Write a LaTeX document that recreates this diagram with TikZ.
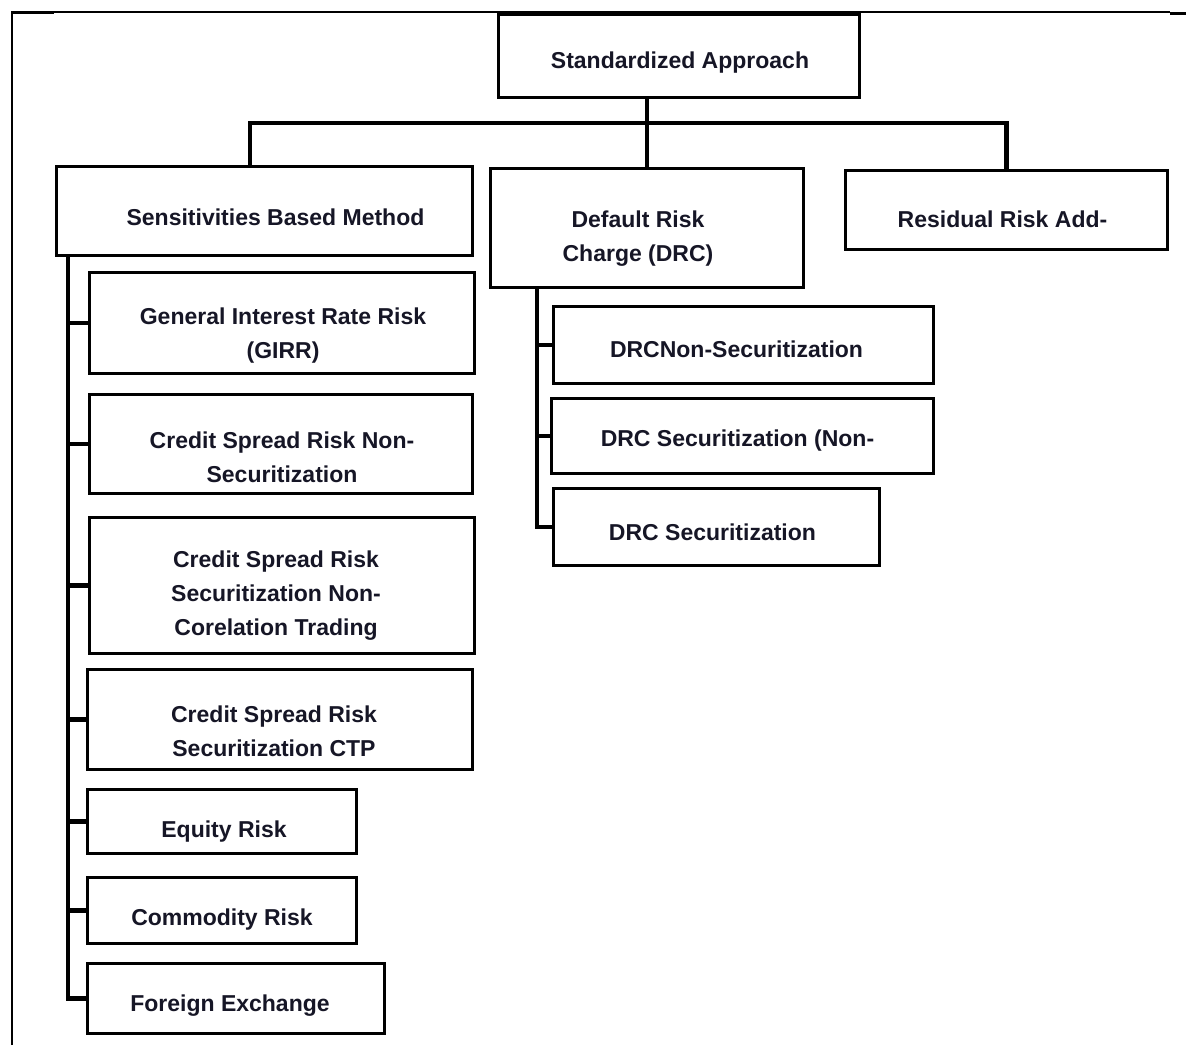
\documentclass[tikz,border=0pt]{standalone}
\usepackage{fontspec}
\setmainfont{Liberation Sans}
\definecolor{inkc}{RGB}{22,22,38}
% \bx{name}{cx}{cy}{w}{h}{dx}{dy}{text}
\newcommand{\bx}[8]{%
  \node[box, minimum width=#4, minimum height=#5] (#1) at (#2,#3) {};
  \node[lbl] (#1-t) at ([shift={(#6,#7)}]#1.center) {#8};}
\begin{document}
\begin{tikzpicture}[x=1pt,y=-1pt,
  box/.style={draw=black, line width=3pt, fill=white, inner sep=0pt},
  lbl/.style={inner sep=0pt, align=center, text=inkc,
    font=\fontsize{23}{34}\selectfont\bfseries},
  conn/.style={draw=black, line width=4.5pt, line cap=butt, line join=miter},
  frameline/.style={draw=black, line width=2pt}]
\useasboundingbox (0,0) rectangle (1186,1045);
% frame
\draw[frameline] (12,1045) -- (12,12) -- (1170,12);
\draw[line width=3pt] (11,12.5) -- (54,12.5);
\draw[line width=3pt] (1170,13.5) -- (1186,13.5);
% top level
\bx{root}{679}{56}{361}{83}{1}{7}{Standardized Approach}
\bx{sbm}{264.5}{211}{416}{89}{11}{6}{Sensitivities Based Method}
\bx{drc}{647}{228}{313}{119}{-9}{10.5}{Default Risk\\Charge (DRC)}
\bx{res}{1006.5}{210}{322}{79}{-4}{9}{Residual Risk Add-}
% SBM children
\bx{girr}{282}{323}{385}{101}{1}{13}{General Interest Rate Risk\\(GIRR)}
\bx{csrns}{281}{444}{383}{99}{1}{13}{Credit Spread Risk Non-\\Securitization}
\bx{csrnct}{282}{585.5}{385}{136}{-6}{10.5}{Credit Spread Risk\\Securitization Non-\\Corelation Trading}
\bx{csrctp}{280}{719.5}{385}{100}{-6}{11.5}{Credit Spread Risk\\Securitization CTP}
\bx{eq}{222}{821.5}{269}{64}{2}{10.5}{Equity Risk}
\bx{com}{222}{910.5}{269}{66}{0}{9.5}{Commodity Risk}
\bx{fx}{236}{998.5}{297}{70}{-6}{7.5}{Foreign Exchange}
% DRC children
\bx{drcns}{743.5}{345}{380}{77}{-7}{4}{DRCNon-Securitization}
\bx{drcsn}{742.5}{436}{382}{75}{-5}{5}{DRC Securitization (Non-}
\bx{drcs}{716.5}{527}{326}{77}{-4}{5}{DRC Securitization}
% top connectors
\coordinate (busL) at ([xshift=-14.5pt]sbm.north);
\coordinate (bus) at (0,123);
\draw[conn] (root.south -| drc.north) -- (drc.north);
\draw[conn] (busL) -- (busL |- bus) -| (res.north);
% SBM bar
\coordinate (sbar) at ([xshift=13pt]sbm.south west);
\draw[conn] (sbar) |- (fx.west);
\foreach \n in {girr,csrns,csrnct,csrctp,eq,com}
  \draw[conn] (\n.west) -- (\n.west -| sbar);
% DRC bar
\coordinate (dbar) at ([xshift=48pt]drc.south west);
\draw[conn] (dbar) |- (drcs.west);
\foreach \n in {drcns,drcsn}
  \draw[conn] (\n.west) -- (\n.west -| dbar);
\end{tikzpicture}
\end{document}
